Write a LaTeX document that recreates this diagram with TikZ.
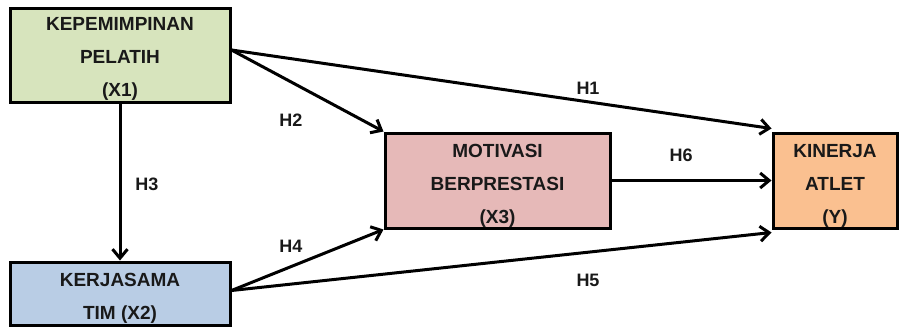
\documentclass[tikz,border=0pt]{standalone}
\usepackage{fontspec}
\setmainfont{Liberation Sans}
\usetikzlibrary{arrows.meta}
\definecolor{cgreen}{HTML}{D7E4BD}
\definecolor{cblue}{HTML}{B9CDE5}
\definecolor{cpink}{HTML}{E6B9B8}
\definecolor{corange}{HTML}{FAC090}
\begin{document}
\begin{tikzpicture}[x=1pt,y=-1pt,
  boxnode/.style={draw=black, line width=3pt, inner sep=0pt},
  boxtext/.style={inner sep=0pt, align=center, text=black!90,
    font=\fontsize{19}{33}\selectfont\bfseries},
  hlabel/.style={font=\fontsize{18}{20}\selectfont\bfseries, inner sep=0pt, text=black!90},
  conn/.style={line width=3pt, -{Straight Barb[length=9pt,width=15pt,line width=3pt]}}]
\useasboundingbox (0,0) rectangle (899,327);
\node[boxnode, fill=cgreen, minimum width=220pt, minimum height=94pt] (x1) at (120,55) {};
\node[boxnode, fill=cblue, minimum width=220pt, minimum height=63pt] (x2) at (120,293.5) {};
\node[boxnode, fill=cpink, minimum width=225pt, minimum height=95pt] (x3) at (497.5,180.5) {};
\node[boxnode, fill=corange, minimum width=124pt, minimum height=95pt] (y) at (835,180.5) {};
\node[boxtext] (x1t) at ([yshift=-4pt]x1.center) {KEPEMIMPINAN\\PELATIH\\(X1)};
\node[boxtext] (x2t) at ([yshift=-4.5pt]x2.center) {KERJASAMA\\TIM (X2)};
\node[boxtext] (x3t) at ([yshift=-5pt]x3.center) {MOTIVASI\\BERPRESTASI\\(X3)};
\node[boxtext] (yt) at ([yshift=-5.5pt]y.center) {KINERJA\\ATLET\\(Y)};
\coordinate (x1r) at ([yshift=5pt]x1.east);
\coordinate (x2r) at ([yshift=3pt]x2.east);
\coordinate (ytl) at ([yshift=3pt]y.north west);
\coordinate (ybl) at ([yshift=-3pt]y.south west);
\draw[conn] (x1r) -- (ytl);
\draw[conn] (x1r) -- (x3.north west);
\draw[conn] (x1.south) -- (x2.north);
\draw[conn] (x2r) -- (x3.south west);
\draw[conn] (x2r) -- (ybl);
\draw[conn] (x3.east) -- (y.west);
\node[hlabel] (h1) at (588,88) {H1};
\node[hlabel] (h2) at (291,120) {H2};
\node[hlabel] (h3) at (147,184) {H3};
\node[hlabel] (h4) at (291,246) {H4};
\node[hlabel] (h5) at (588,280) {H5};
\node[hlabel] (h6) at (681,155) {H6};
\end{tikzpicture}
\end{document}
